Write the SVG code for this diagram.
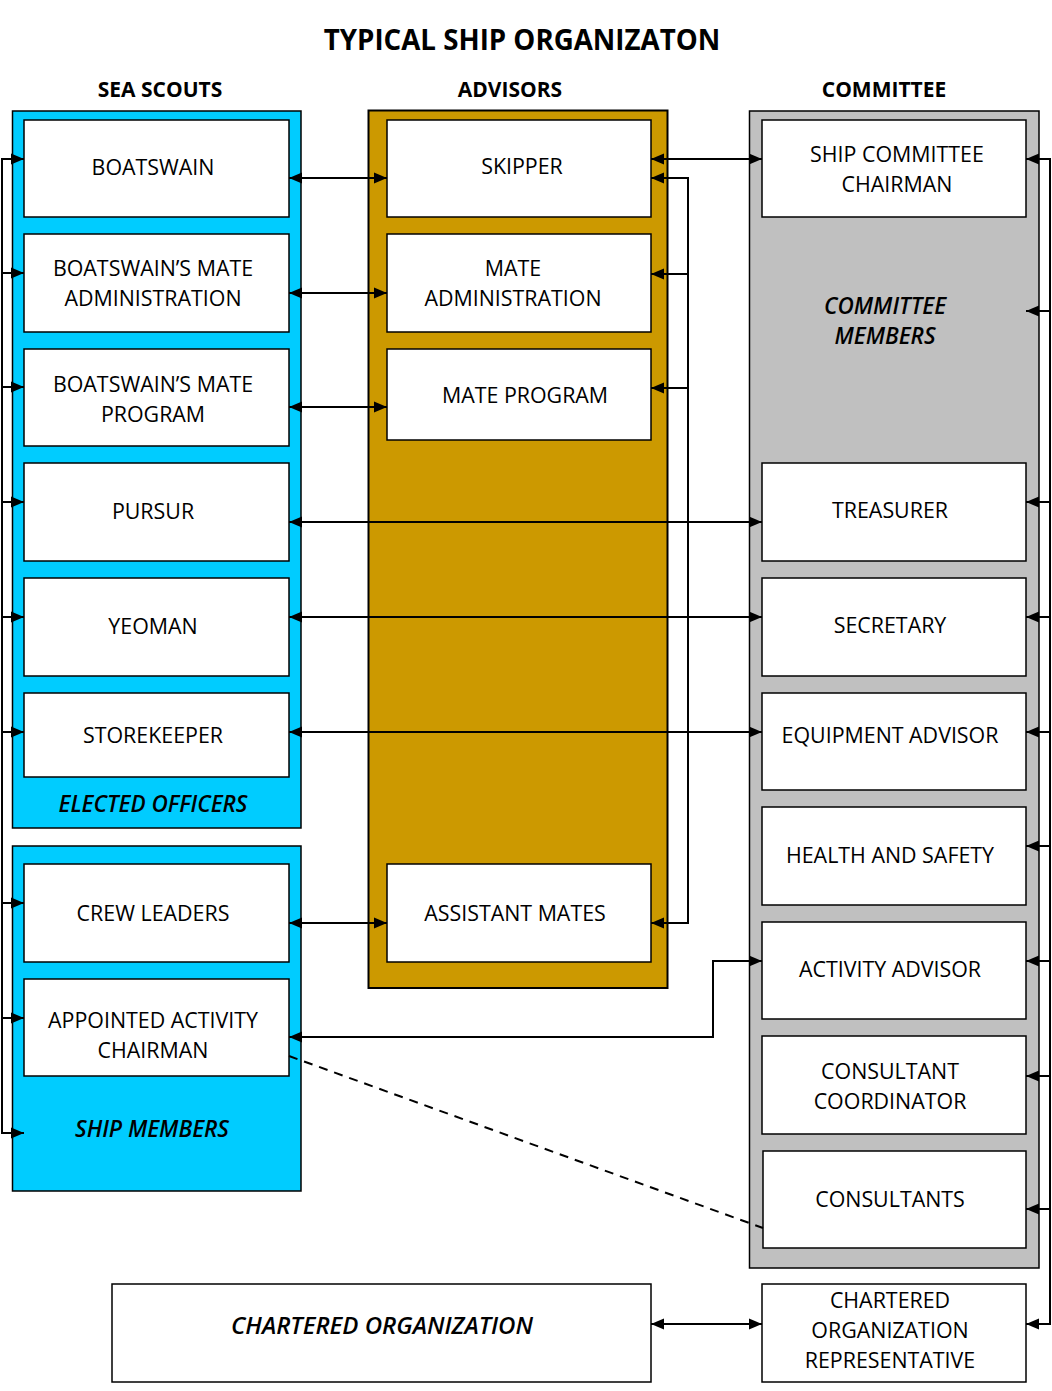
<svg xmlns="http://www.w3.org/2000/svg" width="1052" height="1391" viewBox="0 0 1052 1391">
<defs>
<style>
.t{font-family:"Open Sans","Liberation Sans",sans-serif;font-size:21.4px;fill:#000;text-anchor:middle}
.h{font-family:"Open Sans","Liberation Sans",sans-serif;font-size:21px;font-weight:bold;fill:#000;text-anchor:middle}
.bi{font-family:"Open Sans","Liberation Sans",sans-serif;font-size:22.5px;font-weight:600;font-style:italic;fill:#000;text-anchor:middle}
.box{fill:#fff;stroke:#000;stroke-width:1.5}
.c{fill:none;stroke:#000;stroke-width:2}
.ea{marker-end:url(#ah)}
.ba{marker-start:url(#ah);marker-end:url(#ah)}
</style>
<marker id="ah" markerUnits="userSpaceOnUse" markerWidth="13" markerHeight="12" refX="12" refY="5" orient="auto-start-reverse" viewBox="0 0 12 10">
<path d="M0,0 L12,5 L0,10 z" fill="#000"/>
</marker>
</defs>
<rect width="1052" height="1391" fill="#fff"/>
<text x="522" y="50" class="h" style="font-size:27.7px">TYPICAL SHIP ORGANIZATON</text>
<text x="160" y="97" class="h">SEA SCOUTS</text>
<text x="510" y="97" class="h">ADVISORS</text>
<text x="884" y="97" class="h">COMMITTEE</text>

<g id="panel-elected">
<rect x="12.5" y="111" width="288.5" height="717" fill="#00CCFF" stroke="#000" stroke-width="1.5"/>
<text x="153" y="812" class="bi">ELECTED OFFICERS</text>
</g>
<g id="panel-ship-members">
<rect x="12.5" y="846" width="288.5" height="345" fill="#00CCFF" stroke="#000" stroke-width="1.5"/>
<text x="152" y="1137" class="bi">SHIP MEMBERS</text>
</g>
<g id="panel-advisors">
<rect x="368.5" y="110.5" width="299" height="877.5" fill="#CC9900" stroke="#000" stroke-width="2"/>
</g>
<g id="panel-committee">
<rect x="749.5" y="111" width="289.5" height="1157" fill="#C0C0C0" stroke="#000" stroke-width="1.5"/>
<text x="885" y="314" class="bi">COMMITTEE</text>
<text x="885" y="344" class="bi">MEMBERS</text>
</g>

<g id="boatswain"><rect class="box" x="24" y="120" width="265" height="97"/><text class="t" x="153" y="175">BOATSWAIN</text></g>
<g id="bm-admin"><rect class="box" x="24" y="234" width="265" height="98"/><text class="t" x="153" y="276">BOATSWAIN’S MATE</text><text class="t" x="153" y="306">ADMINISTRATION</text></g>
<g id="bm-program"><rect class="box" x="24" y="349" width="265" height="97"/><text class="t" x="153" y="392">BOATSWAIN’S MATE</text><text class="t" x="153" y="422">PROGRAM</text></g>
<g id="pursur"><rect class="box" x="24" y="463" width="265" height="98"/><text class="t" x="153" y="519">PURSUR</text></g>
<g id="yeoman"><rect class="box" x="24" y="578" width="265" height="98"/><text class="t" x="153" y="634">YEOMAN</text></g>
<g id="storekeeper"><rect class="box" x="24" y="693" width="265" height="84"/><text class="t" x="153" y="743">STOREKEEPER</text></g>
<g id="crew-leaders"><rect class="box" x="24" y="864" width="265" height="98"/><text class="t" x="153" y="921">CREW LEADERS</text></g>
<g id="appointed"><rect class="box" x="24" y="979" width="265" height="97"/><text class="t" x="153" y="1028">APPOINTED ACTIVITY</text><text class="t" x="153" y="1058">CHAIRMAN</text></g>

<g id="skipper"><rect class="box" x="387" y="120" width="264" height="97"/><text class="t" x="522" y="174">SKIPPER</text></g>
<g id="mate-admin"><rect class="box" x="387" y="234" width="264" height="98"/><text class="t" x="513" y="276">MATE</text><text class="t" x="513" y="306">ADMINISTRATION</text></g>
<g id="mate-program"><rect class="box" x="387" y="349" width="264" height="91"/><text class="t" x="525" y="403">MATE PROGRAM</text></g>
<g id="assistant-mates"><rect class="box" x="387" y="864" width="264" height="98"/><text class="t" x="515" y="921">ASSISTANT  MATES</text></g>

<g id="ship-committee-chairman"><rect class="box" x="762" y="120" width="264" height="97"/><text class="t" x="897" y="162">SHIP COMMITTEE</text><text class="t" x="897" y="192">CHAIRMAN</text></g>
<g id="treasurer"><rect class="box" x="762" y="463" width="264" height="98"/><text class="t" x="890" y="518">TREASURER</text></g>
<g id="secretary"><rect class="box" x="762" y="578" width="264" height="98"/><text class="t" x="890" y="633">SECRETARY</text></g>
<g id="equipment-advisor"><rect class="box" x="762" y="693" width="264" height="97"/><text class="t" x="890" y="743">EQUIPMENT ADVISOR</text></g>
<g id="health-safety"><rect class="box" x="762" y="807" width="264" height="98"/><text class="t" x="890" y="863">HEALTH AND SAFETY</text></g>
<g id="activity-advisor"><rect class="box" x="762" y="922" width="264" height="97"/><text class="t" x="890" y="977">ACTIVITY ADVISOR</text></g>
<g id="consultant-coordinator"><rect class="box" x="762" y="1036" width="264" height="98"/><text class="t" x="890" y="1079">CONSULTANT</text><text class="t" x="890" y="1109">COORDINATOR</text></g>
<g id="consultants"><rect class="box" x="763" y="1151" width="263" height="97"/><text class="t" x="890" y="1207">CONSULTANTS</text></g>
<g id="cor"><rect class="box" x="762" y="1284" width="264" height="98"/><text class="t" x="890" y="1308">CHARTERED</text><text class="t" x="890" y="1338">ORGANIZATION</text><text class="t" x="890" y="1368">REPRESENTATIVE</text></g>
<g id="chartered-org"><rect class="box" x="112" y="1284" width="539" height="98"/><text class="bi" x="382" y="1334" style="font-size:24px">CHARTERED ORGANIZATION</text></g>

<g id="connectors">
<path class="c" d="M2,159 V1133"/>
<path class="c ea" d="M1,159 H24"/>
<path class="c ea" d="M1,273 H24"/>
<path class="c ea" d="M1,387 H24"/>
<path class="c ea" d="M1,502 H24"/>
<path class="c ea" d="M1,617 H24"/>
<path class="c ea" d="M1,732 H24"/>
<path class="c ea" d="M1,903 H24"/>
<path class="c ea" d="M1,1018 H24"/>
<path class="c ea" d="M1,1133 H24"/>

<path class="c" d="M1050,159 V1324"/>
<path class="c ea" d="M1051,159 H1026"/>
<path class="c ea" d="M1051,311 H1026"/>
<path class="c ea" d="M1051,502 H1026"/>
<path class="c ea" d="M1051,617 H1026"/>
<path class="c ea" d="M1051,732 H1026"/>
<path class="c ea" d="M1051,846 H1026"/>
<path class="c ea" d="M1051,961 H1026"/>
<path class="c ea" d="M1051,1076 H1026"/>
<path class="c ea" d="M1051,1209 H1026"/>
<path class="c ea" d="M1051,1324 H1026"/>

<path class="c" d="M688,178 V923"/>
<path class="c ea" d="M689,178 H651"/>
<path class="c ea" d="M689,274 H651"/>
<path class="c ea" d="M689,388 H651"/>
<path class="c ea" d="M689,923 H651"/>

<path class="c ba" d="M651,159 H762"/>
<path class="c ba" d="M289,178 H387"/>
<path class="c ba" d="M289,293 H387"/>
<path class="c ba" d="M289,407 H387"/>
<path class="c ba" d="M289,923 H387"/>
<path class="c ba" d="M289,522 H762"/>
<path class="c ba" d="M289,617 H762"/>
<path class="c ba" d="M289,732 H762"/>
<path class="c ba" d="M289,1037 H713 V961 H762"/>
<path class="c ba" d="M651,1324 H762"/>
<path d="M289,1056 L763,1228" fill="none" stroke="#000" stroke-width="2" stroke-dasharray="9,7"/>
</g>
</svg>
